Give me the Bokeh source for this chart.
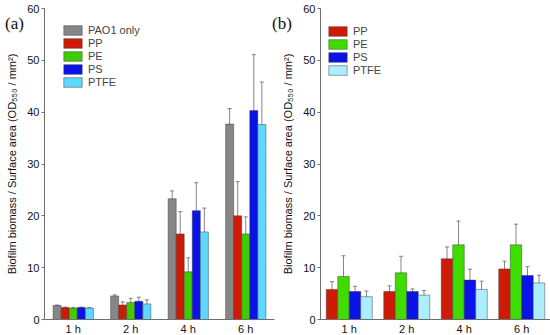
from bokeh.plotting import figure
from bokeh.layouts import row
from bokeh.models import (ColumnDataSource, Range1d, FixedTicker, Whisker, TeeHead,
                          Legend, LegendItem, Div)
from bokeh.embed import file_html
from bokeh.resources import INLINE

times = ["1 h", "2 h", "4 h", "6 h"]

# Panel (a)
a_series = ["PAO1 only", "PP", "PE", "PS", "PTFE"]
a_pao1 = [2.7, 4.55, 23.3, 37.7]
a_pao1_err = [0.1, 0.2, 1.5, 3.0]
a_pp = [2.3, 2.8, 16.5, 20.0]
a_pp_err = [0.1, 0.6, 4.3, 6.6]
a_pe = [2.2, 3.3, 9.2, 16.5]
a_pe_err = [0.1, 0.8, 2.7, 3.3]
a_ps = [2.3, 3.5, 21.0, 40.3]
a_ps_err = [0.1, 0.8, 5.4, 10.8]
a_ptfe = [2.2, 3.0, 16.9, 37.6]
a_ptfe_err = [0.1, 0.8, 4.6, 8.2]

# Panel (b)
b_series = ["PP", "PE", "PS", "PTFE"]
b_pp = [5.8, 5.4, 11.7, 9.75]
b_pp_err = [1.5, 1.1, 2.3, 1.5]
b_pe = [8.3, 9.0, 14.4, 14.4]
b_pe_err = [4.0, 3.2, 4.6, 4.0]
b_ps = [5.4, 5.4, 7.6, 8.5]
b_ps_err = [1.0, 0.5, 2.1, 1.7]
b_ptfe = [4.4, 4.7, 5.8, 7.05]
b_ptfe_err = [1.1, 0.9, 1.6, 1.5]

y_ticks = [0, 10, 20, 30, 40, 50, 60]

FONT = "Liberation Sans"
AXIS_COLOR = "#6e6e6e"
FRAME_H = 311


def make_panel(names, values, errors, colors, bar_w, border_left, border_right,
               legend_loc):
    p = figure(frame_width=230, frame_height=FRAME_H, output_backend="svg",
               toolbar_location=None,
               x_range=Range1d(0.5, 4.5), y_range=Range1d(0, 60),
               min_border_left=border_left, min_border_right=border_right,
               min_border_top=8, min_border_bottom=16)
    p.outline_line_color = None
    p.grid.visible = False

    n = len(names)
    items = []
    for i, (name, vals, errs, col) in enumerate(zip(names, values, errors, colors)):
        off = (i - (n - 1) / 2) * bar_w
        xs = [k + 1 + off for k in range(len(times))]
        src = ColumnDataSource(dict(x=xs, top=vals,
                                    upper=[v + e for v, e in zip(vals, errs)],
                                    lower=[v - e for v, e in zip(vals, errs)]))
        r = p.vbar(x="x", top="top", width=bar_w, bottom=0, source=src,
                   fill_color=col, line_color="#3a3a3a", line_alpha=0.6, line_width=0.8)
        items.append(LegendItem(label=name, renderers=[r]))
        w = Whisker(base="x", upper="upper", lower="lower", source=src,
                    line_color="#666666", line_width=0.8,
                    upper_head=TeeHead(size=4, line_color="#666666", line_width=0.8),
                    lower_head=TeeHead(size=4, line_color="#666666", line_width=0.8))
        p.add_layout(w)

    legend = Legend(items=items, location=legend_loc, margin=0,
                    padding=0, spacing=1, glyph_width=23, glyph_height=12,
                    label_standoff=4, label_text_font=FONT, label_text_font_size="11px",
                    label_height=12, border_line_color=None, background_fill_alpha=0)
    p.add_layout(legend)

    p.xaxis.ticker = FixedTicker(ticks=[1, 2, 3, 4])
    p.xaxis.major_label_overrides = {k + 1: t for k, t in enumerate(times)}
    p.xaxis.major_tick_in = 0
    p.xaxis.major_tick_out = 0
    p.xaxis.minor_tick_line_color = None
    p.xaxis.major_label_standoff = 3
    p.xaxis.axis_line_color = AXIS_COLOR
    p.xaxis.major_label_text_font = FONT
    p.xaxis.major_label_text_font_size = "11px"
    p.xaxis.major_label_text_color = "#111111"

    p.yaxis.ticker = FixedTicker(ticks=y_ticks)
    p.yaxis.major_tick_in = 0
    p.yaxis.major_tick_out = 3
    p.yaxis.minor_tick_line_color = None
    p.yaxis.axis_line_color = AXIS_COLOR
    p.yaxis.major_tick_line_color = AXIS_COLOR
    p.yaxis.major_label_standoff = 2
    p.yaxis.major_label_text_font = FONT
    p.yaxis.major_label_text_font_size = "11px"
    p.yaxis.major_label_text_color = "#111111"
    p.yaxis.axis_label = "Biofilm biomass / Surface area (OD\u2085\u2085\u2080 / mm\u00b2)"
    p.yaxis.axis_label_text_font = FONT
    p.yaxis.axis_label_text_font_size = "11px"
    p.yaxis.axis_label_text_font_style = "normal"
    p.yaxis.axis_label_text_color = "#111111"
    p.yaxis.axis_label_standoff = 6
    return p


pa = make_panel(a_series,
                [a_pao1, a_pp, a_pe, a_ps, a_ptfe],
                [a_pao1_err, a_pp_err, a_pe_err, a_ps_err, a_ptfe_err],
                ["#868686", "#cf1b05", "#3fcc00", "#0a12e8", "#5fd8ff"],
                0.14, 44, 5, (17, FRAME_H - 16 - 64))
pb = make_panel(b_series,
                [b_pp, b_pe, b_ps, b_ptfe],
                [b_pp_err, b_pe_err, b_ps_err, b_ptfe_err],
                ["#cf1b05", "#3fdc00", "#0a12e8", "#aaeeff"],
                0.2, 38, 2, (6, FRAME_H - 17 - 51))

label_style = {"position": "absolute", "font-family": "Liberation Serif",
               "font-size": "17px", "color": "#111111", "z-index": "10"}
div_a = Div(text="(a)", width=30, height=22,
            styles=dict(label_style, left="0px", top="7px"))
div_b = Div(text="(b)", width=30, height=22,
            styles=dict(label_style, left="267px", top="7px"))

layout = row(pa, pb, div_a, div_b, spacing=0)
open("out.html", "w").write(file_html(layout, INLINE))
